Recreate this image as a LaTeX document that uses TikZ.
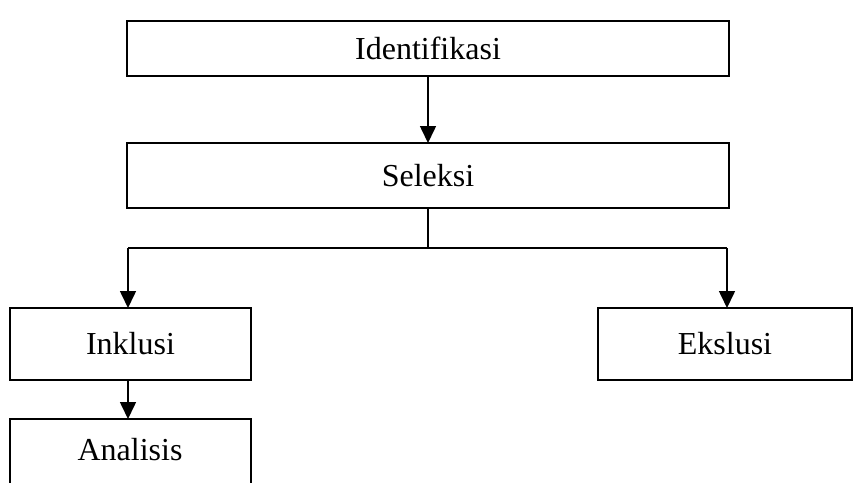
\documentclass[tikz,border=0pt]{standalone}
\usepackage{fontspec}
\setmainfont{Liberation Serif}
\usetikzlibrary{arrows.meta}
\begin{document}
\begin{tikzpicture}[x=1pt,y=-1pt,
  box/.style={draw,line width=1.8pt,rectangle,inner sep=0pt,outer sep=0pt,anchor=north west,font=\fontsize{32}{38}\selectfont},
  conn/.style={line width=1.6pt},
  arr/.style={conn,-{Triangle[width=16pt,length=17pt]}}]
\useasboundingbox (0,0) rectangle (854,482);
\clip (0,0) rectangle (854,482);
\node[box,minimum width=602pt,minimum height=55pt] (ident) at (127,21) {Identifikasi};
\node[box,minimum width=602pt,minimum height=65pt] (sel) at (127,143) {Seleksi};
\node[box,minimum width=241pt,minimum height=72pt] (ink) at (10,308) {Inklusi};
\node[box,minimum width=254pt,minimum height=72pt] (eks) at (598,308) {Ekslusi};
\node[box,minimum width=241pt,minimum height=90pt] (ana) at (10,419) {};
\node[font=\fontsize{32}{38}\selectfont] (anat) at (130,450) {Analisis};
\coordinate (split) at ([yshift=-40pt]sel.south);
\coordinate (lft) at (128,248);
\coordinate (rgt) at (727,248);
\draw[arr] (ident.south) -- (sel.north);
\draw[conn] (sel.south) -- (split);
\draw[conn] (lft) -- (rgt);
\draw[arr] (lft) -- (lft |- ink.north);
\draw[arr] (rgt) -- (rgt |- eks.north);
\draw[arr] (lft |- ink.south) -- (lft |- ana.north);
\end{tikzpicture}
\end{document}
